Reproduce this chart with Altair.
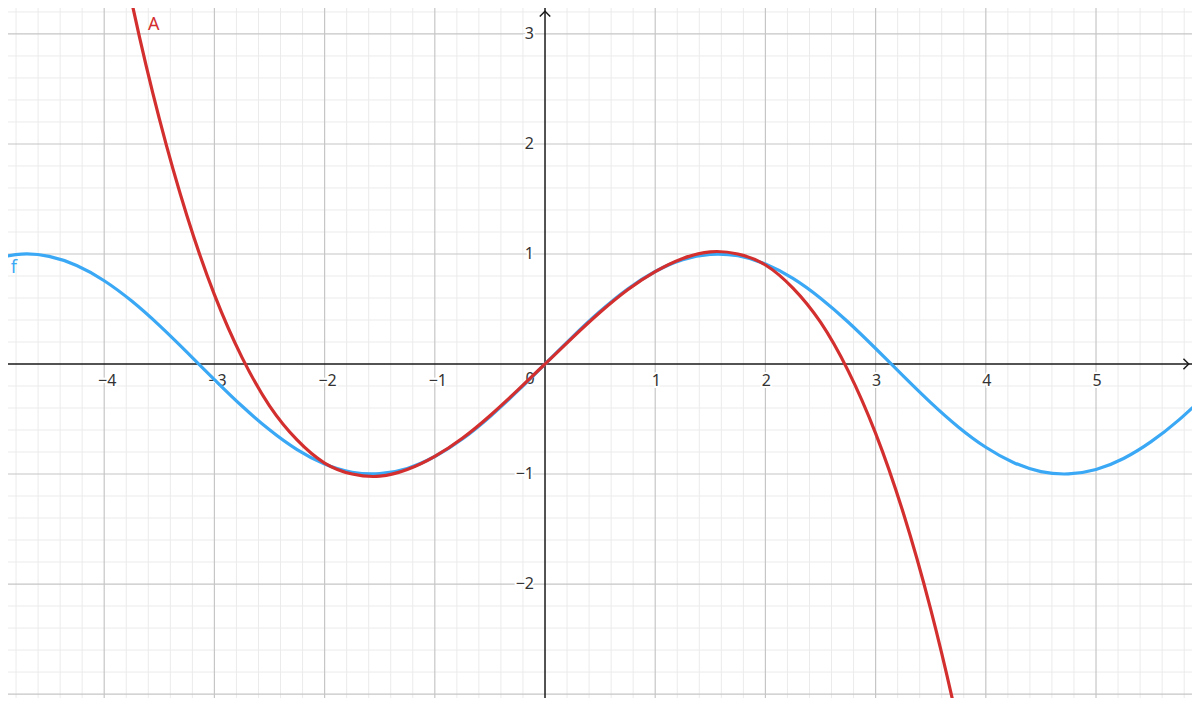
import altair as alt
import pandas as pd

# ---- data ----
f_x = [-5.0, -4.75, -4.5, -4.25, -4.0, -3.75, -3.5, -3.25, -3.0, -2.75, -2.5, -2.25,
       -2.0, -1.75, -1.5, -1.25, -1.0, -0.75, -0.5, -0.25, 0.0, 0.25, 0.5, 0.75,
       1.0, 1.25, 1.5, 1.75, 2.0, 2.25, 2.5, 2.75, 3.0, 3.25, 3.5, 3.75, 4.0,
       4.25, 4.5, 4.75, 5.0, 5.25, 5.5, 5.75, 6.0]
f_y = [0.959, 0.999, 0.978, 0.895, 0.757, 0.572, 0.351, 0.108, -0.141, -0.382, -0.598, -0.778,
       -0.909, -0.984, -0.997, -0.949, -0.841, -0.682, -0.479, -0.247, 0.0, 0.247, 0.479, 0.682,
       0.841, 0.949, 0.997, 0.984, 0.909, 0.778, 0.598, 0.382, 0.141, -0.108, -0.351, -0.572, -0.757,
       -0.895, -0.978, -0.999, -0.959, -0.859, -0.706, -0.510, -0.279]

a_x = [-4.0, -3.75, -3.5, -3.25, -3.0, -2.75, -2.5, -2.25, -2.0, -1.75, -1.5, -1.25,
       -1.0, -0.75, -0.5, -0.25, 0.0, 0.25, 0.5, 0.75, 1.0, 1.25, 1.5, 1.75,
       2.0, 2.25, 2.5, 2.75, 3.0, 3.25, 3.5, 3.75, 4.0]
a_y = [4.53, 3.29, 2.23, 1.35, 0.63, 0.06, -0.38, -0.69, -0.90, -1.00, -1.02, -0.96,
       -0.84, -0.675, -0.47, -0.24, 0.0, 0.24, 0.47, 0.675, 0.84, 0.96, 1.02, 1.00,
       0.90, 0.69, 0.38, -0.06, -0.63, -1.35, -2.23, -3.29, -4.53]

x_ticks = [-4, -3, -2, -1, 1, 2, 3, 4, 5]
y_ticks = [-2, -1, 1, 2, 3]
major_x = [-4, -3, -2, -1, 1, 2, 3, 4, 5]
major_y = [-3, -2, -1, 1, 2, 3]

X_DOM = [-4.873, 5.871]
Y_DOM = [-3.036, 3.236]
W, H = 1184, 690

BLUE = "#3aa8f5"
RED = "#d32f2f"
FONT = "Noto Sans"

xs = alt.Scale(domain=X_DOM, nice=False, zero=False)
ys = alt.Scale(domain=Y_DOM, nice=False, zero=False)

def fmt(v):
    return ("\u2212" + str(abs(v))) if v < 0 else str(v)

minor_x = [round(-4.8 + 0.2 * i, 1) for i in range(54)]
minor_x = [v for v in minor_x if abs(v - round(v)) > 1e-6]
minor_y = [round(-3.0 + 0.2 * i, 1) for i in range(32)]
minor_y = [v for v in minor_y if abs(v - round(v)) > 1e-6]

minor_v = alt.Chart(pd.DataFrame({"x": minor_x})).mark_rule(color="#ebebeb", strokeWidth=1).encode(
    x=alt.X("x:Q", scale=xs, axis=None))
minor_h = alt.Chart(pd.DataFrame({"y": minor_y})).mark_rule(color="#ebebeb", strokeWidth=1).encode(
    y=alt.Y("y:Q", scale=ys, axis=None))
major_v = alt.Chart(pd.DataFrame({"x": major_x})).mark_rule(color="#c6c6c6", strokeWidth=1.2).encode(
    x=alt.X("x:Q", scale=xs, axis=None))
major_h = alt.Chart(pd.DataFrame({"y": major_y})).mark_rule(color="#c6c6c6", strokeWidth=1.2).encode(
    y=alt.Y("y:Q", scale=ys, axis=None))

axis_v = alt.Chart(pd.DataFrame({"x": [0]})).mark_rule(color="#1a1a1a", strokeWidth=1.5).encode(
    x=alt.X("x:Q", scale=xs, axis=None))
axis_h = alt.Chart(pd.DataFrame({"y": [0]})).mark_rule(color="#1a1a1a", strokeWidth=1.5).encode(
    y=alt.Y("y:Q", scale=ys, axis=None))

arrow_r = alt.Chart(pd.DataFrame({"x": [X_DOM[1] - 0.03], "y": [0]})).mark_point(
    shape="M-1,-1L0,0L-1,1", filled=False, color="#1a1a1a", strokeWidth=1.5, size=110, opacity=1
).encode(x=alt.X("x:Q", scale=xs, axis=None), y=alt.Y("y:Q", scale=ys, axis=None))
arrow_u = alt.Chart(pd.DataFrame({"x": [0], "y": [Y_DOM[1] - 0.03]})).mark_point(
    shape="M-1,1L0,0L1,1", filled=False, color="#1a1a1a", strokeWidth=1.5, size=110, opacity=1
).encode(x=alt.X("x:Q", scale=xs, axis=None), y=alt.Y("y:Q", scale=ys, axis=None))

xl = pd.DataFrame({"x": x_ticks, "y": [0] * len(x_ticks), "t": [fmt(v) for v in x_ticks]})
yl = pd.DataFrame({"x": [0] * len(y_ticks), "y": y_ticks, "t": [fmt(v) for v in y_ticks]})
zl = pd.DataFrame({"x": [0], "y": [0], "t": ["0"]})

FS = 16

def labels(df, align, dx_neg, dx_pos, dy):
    layers = []
    for halo in (True, False):
        for neg in (True, False):
            sub = df[(df["x"] + df["y"] < 0) == neg]
            if len(sub) == 0:
                continue
            kw = dict(font=FONT, fontSize=FS, align=align, baseline="middle",
                      dx=dx_neg if neg else dx_pos, dy=dy)
            if halo:
                kw.update(stroke="white", strokeWidth=4, color="white")
            else:
                kw.update(color="#333333")
            layers.append(alt.Chart(sub).mark_text(**kw).encode(
                x=alt.X("x:Q", scale=xs, axis=None), y=alt.Y("y:Q", scale=ys, axis=None),
                text="t:N"))
    return layers

lab_layers = labels(xl, "center", 3, 1, 17) + labels(yl, "right", -11, -11, 0)
zero_layers = []
for halo in (True, False):
    kw = dict(font=FONT, fontSize=FS, align="center", baseline="middle", dx=-15, dy=15)
    if halo:
        kw.update(stroke="white", strokeWidth=4, color="white")
    else:
        kw.update(color="#333333")
    zero_layers.append(alt.Chart(zl).mark_text(**kw).encode(
        x=alt.X("x:Q", scale=xs, axis=None), y=alt.Y("y:Q", scale=ys, axis=None), text="t:N"))

f_line = alt.Chart(pd.DataFrame({"x": f_x, "y": f_y})).mark_line(
    color=BLUE, strokeWidth=3.2, interpolate="natural", clip=True
).encode(x=alt.X("x:Q", scale=xs, axis=None), y=alt.Y("y:Q", scale=ys, axis=None), order="x:Q")
a_line = alt.Chart(pd.DataFrame({"x": a_x, "y": a_y})).mark_line(
    color=RED, strokeWidth=3.2, interpolate="natural", clip=True
).encode(x=alt.X("x:Q", scale=xs, axis=None), y=alt.Y("y:Q", scale=ys, axis=None), order="x:Q")

names = pd.DataFrame({"x": [-3.55, -4.82], "y": [3.08, 0.87], "t": ["A", "f"], "c": [RED, BLUE]})
name_text = alt.Chart(names).mark_text(font=FONT, fontSize=18, align="center", baseline="middle").encode(
    x=alt.X("x:Q", scale=xs, axis=None), y=alt.Y("y:Q", scale=ys, axis=None),
    text="t:N", color=alt.Color("c:N", scale=None))

chart = alt.layer(
    minor_v, minor_h, major_v, major_h, axis_v, axis_h, arrow_r, arrow_u,
    *lab_layers, *zero_layers, f_line, a_line, name_text
).properties(
    width=W, height=H, padding=0, background="white",
    autosize=alt.AutoSizeParams(type="none")
).configure_view(stroke=None)

chart.save("out.html", embed_options={"renderer": "svg", "actions": False})
